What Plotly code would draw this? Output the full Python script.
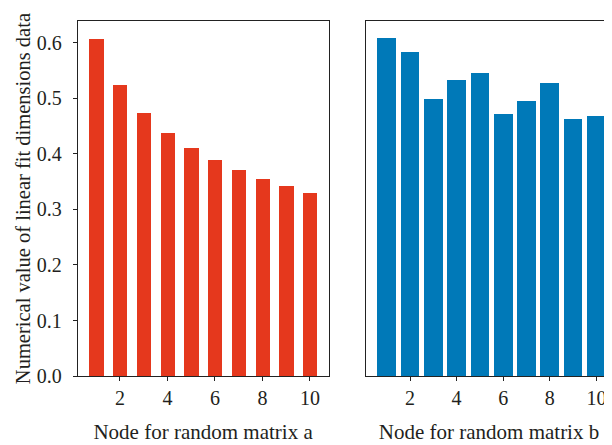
import plotly.graph_objects as go

nodes = [1, 2, 3, 4, 5, 6, 7, 8, 9, 10]
matrix_a = [0.607, 0.523, 0.473, 0.437, 0.410, 0.389, 0.371, 0.355, 0.342, 0.330]
matrix_b = [0.608, 0.583, 0.499, 0.533, 0.545, 0.472, 0.495, 0.527, 0.463, 0.468]
x_ticks = [2, 4, 6, 8, 10]
y_ticks = [0.0, 0.1, 0.2, 0.3, 0.4, 0.5, 0.6]

OFF = 8  # page body margin offset
W, H = 612 - OFF, 445 - OFF
FONT = "Liberation Serif"
TXT = "#231f20"
LINE = "#222222"

fig = go.Figure()
fig.add_trace(go.Bar(x=nodes, y=matrix_a, width=0.6, marker=dict(color="#e5381d", line=dict(width=0)),
                     xaxis="x", yaxis="y", showlegend=False))
fig.add_trace(go.Bar(x=nodes, y=matrix_b, width=0.8, marker=dict(color="#0079b8", line=dict(width=0)),
                     xaxis="x2", yaxis="y2", showlegend=False))

ydom = [1 - 377.6 / H, 1 - 13.4 / H]
yrange = [0, 0.639]
common_x = dict(showgrid=False, zeroline=False, showline=True, linecolor=LINE, linewidth=1,
                ticks="outside", ticklen=4, tickcolor=LINE, tickvals=x_ticks,
                tickfont=dict(family=FONT, size=20, color=TXT),
                title_font=dict(family=FONT, size=21, color=TXT), title_standoff=16)

fig.update_layout(
    width=W, height=H,
    margin=dict(l=0, r=0, t=0, b=0),
    plot_bgcolor="white", paper_bgcolor="white",
    bargap=0,
    xaxis=dict(domain=[(77.7 - OFF) / W, (328.5 - OFF) / W], range=[0.22, 10.78], mirror=True,
               title_text="Node for random matrix a", anchor="y", **common_x),
    xaxis2=dict(domain=[(366 - OFF) / W, 1.0], range=[0.11, 10.67], mirror=True,
                title_text="Node for random matrix b", anchor="y2", **common_x),
    yaxis=dict(domain=ydom, range=yrange, showgrid=False, zeroline=False, showline=True,
               linecolor=LINE, linewidth=1, mirror=True, ticks="outside", ticklen=4, tickcolor=LINE,
               tickvals=y_ticks, tickformat=".1f", ticklabelstandoff=7,
               tickfont=dict(family=FONT, size=20, color=TXT),
               title_text="Numerical value of linear fit dimensions data",
               title_font=dict(family=FONT, size=20.5, color=TXT), title_standoff=0, anchor="x"),
    yaxis2=dict(domain=ydom, range=yrange, showgrid=False, zeroline=False, showline=True,
                linecolor=LINE, linewidth=1, showticklabels=False, ticks="", anchor="x2"),
)

fig.write_html("out.html")
